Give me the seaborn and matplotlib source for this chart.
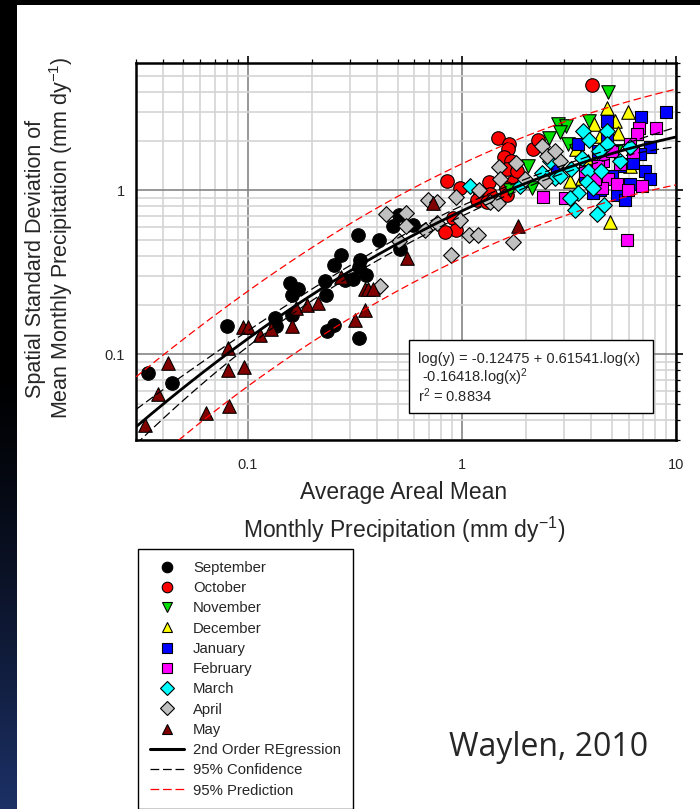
import numpy as np
import pandas as pd
import matplotlib
matplotlib.use("Agg")
import matplotlib.pyplot as plt
import seaborn as sns
from matplotlib.lines import Line2D
from matplotlib.patches import Rectangle
from matplotlib.ticker import FixedLocator, FixedFormatter, LogLocator, NullFormatter

# ---------------- data ----------------
sep_x = [0.0341, 0.0441, 0.0798, 0.157, 0.171, 0.161, 0.134, 0.135, 0.161, 0.229, 0.231, 0.272, 0.252,
         0.334, 0.330, 0.284, 0.310, 0.356, 0.234, 0.252, 0.330, 0.327, 0.409, 0.508, 0.476, 0.590, 0.513]
sep_y = [0.0766, 0.0666, 0.148, 0.271, 0.252, 0.229, 0.166, 0.148, 0.173, 0.279, 0.229, 0.402, 0.349,
         0.374, 0.339, 0.283, 0.287, 0.303, 0.138, 0.150, 0.125, 0.532, 0.496, 0.705, 0.603, 0.612, 0.437]

oct_x = [4.05, 1.47, 1.66, 1.64, 1.57, 1.69, 1.62, 2.15, 2.26, 0.851, 0.978, 1.34, 1.21, 1.35, 1.17,
         1.31, 1.73, 1.61, 1.62, 0.908, 0.937, 0.833, 1.81]
oct_y = [4.43, 2.10, 1.91, 1.78, 1.59, 1.52, 1.36, 1.78, 2.02, 1.15, 1.04, 1.12, 0.972, 0.958, 0.869,
         0.845, 1.13, 1.03, 0.933, 0.684, 0.570, 0.555, 1.32]

nov_x = [4.81, 3.92, 2.81, 3.06, 2.87, 2.55, 3.13, 2.03, 1.68, 2.12, 5.24, 3.41]
nov_y = [4.01, 2.67, 2.53, 2.49, 2.29, 2.08, 1.93, 1.42, 1.01, 1.03, 1.75, 1.75]

dec_x = [4.76, 5.97, 4.14, 5.19, 5.36, 4.92, 3.20, 3.64, 4.42, 3.41, 3.88, 6.10]
dec_y = [3.21, 3.03, 2.53, 2.64, 2.23, 0.638, 1.15, 1.20, 2.16, 1.80, 1.52, 1.42]

jan_x = [8.98, 6.86, 4.76, 7.56, 6.79, 6.10, 5.30, 4.42, 4.09, 2.78, 3.48, 6.30, 4.76, 5.47, 5.02, 3.76, 7.17,
         7.56, 5.78, 4.32]
jan_y = [3.03, 2.79, 2.64, 1.85, 1.66, 1.10, 0.933, 1.00, 0.972, 1.36, 1.93, 1.48, 2.13, 1.42, 1.23, 1.23, 1.32,
         1.18, 0.869, 1.75]

feb_x = [8.07, 6.72, 6.58, 6.10, 6.30, 5.47, 4.81, 5.30, 6.93, 5.90, 2.39, 3.03, 4.56, 4.51, 3.76, 4.18, 5.02,
         5.97, 4.32]
feb_y = [2.42, 2.42, 2.20, 1.93, 1.71, 1.46, 1.18, 1.10, 1.07, 0.496, 0.919, 0.894, 1.52, 1.03, 1.32, 1.18, 1.75,
         1.00, 1.42]

mar_x = [3.68, 3.92, 4.76, 4.76, 4.37, 6.10, 5.47, 3.64, 3.23, 3.88, 4.46, 3.84, 3.48, 3.20, 4.09, 3.37,
         4.61, 4.27, 2.72, 2.36, 1.09, 1.87, 2.58, 2.87]
mar_y = [2.32, 2.02, 2.32, 1.91, 1.75, 1.85, 1.52, 1.57, 1.36, 1.32, 1.31, 1.12, 0.972, 0.906, 1.03, 0.755,
         0.811, 0.714, 1.20, 1.27, 1.06, 1.07, 1.52, 1.23]

apr_x = [0.441, 0.548, 0.548, 0.508, 0.672, 0.764, 0.693, 0.764, 0.414, 0.937, 1.20, 0.978, 1.08, 1.19,
         0.889, 1.49, 1.79, 1.51, 1.35, 1.47, 1.73, 1.97, 2.36, 2.50, 2.87, 2.72, 2.44]
apr_y = [0.714, 0.724, 0.603, 0.489, 0.570, 0.629, 0.869, 0.845, 0.260, 0.919, 1.00, 0.665, 0.532, 0.532,
         0.402, 1.40, 1.48, 1.17, 0.845, 0.834, 0.482, 1.18, 1.88, 1.63, 1.52, 1.73, 1.15]

may_x = [0.0330, 0.0380, 0.0423, 0.0637, 0.0815, 0.0807, 0.0807, 0.0958, 0.0947, 0.100, 0.114, 0.128, 0.161,
         0.168, 0.189, 0.212, 0.272, 0.316, 0.352, 0.364, 0.384, 0.352, 0.553, 0.732, 1.83]
may_y = [0.0369, 0.0570, 0.0881, 0.0437, 0.0482, 0.110, 0.0798, 0.0833, 0.146, 0.146, 0.131, 0.142, 0.148,
         0.191, 0.199, 0.207, 0.295, 0.161, 0.252, 0.249, 0.249, 0.186, 0.385, 0.834, 0.603]

months = ["September", "October", "November", "December", "January", "February", "March", "April", "May"]
month_x = [sep_x, oct_x, nov_x, dec_x, jan_x, feb_x, mar_x, apr_x, may_x]
month_y = [sep_y, oct_y, nov_y, dec_y, jan_y, feb_y, mar_y, apr_y, may_y]
month_colors = ["#000000", "#ff0000", "#00e000", "#ffff00", "#0000ff", "#ff00ff", "#00ffff", "#c0c0c0", "#800000"]
month_markers = ["o", "o", "v", "^", "s", "s", "D", "D", "^"]
month_sizes = [95, 95, 95, 95, 80, 80, 64, 64, 95]

# regression (2nd order in log-log space) as reported on the chart
coef = [-0.12475, 0.61541, -0.16418]
r2_text = "0.8834"
resid_se = 0.145          # residual standard error (log10 units)
line_labels = ["2nd Order REgression", "95% Confidence", "95% Prediction"]
x_ticks = [0.1, 1, 10]
x_ticklabels = ["0.1", "1", "10"]
y_ticks = [0.1, 1]
y_ticklabels = ["0.1", "1"]

df = pd.DataFrame({
    "x": np.concatenate([np.asarray(v, float) for v in month_x]),
    "y": np.concatenate([np.asarray(v, float) for v in month_y]),
    "month": np.repeat(months, [len(v) for v in month_x]),
})

# ---------------- style ----------------
sns.set_style("white")
plt.rcParams["font.family"] = ["Liberation Sans", "DejaVu Sans"]
plt.rcParams["mathtext.fontset"] = "custom"
plt.rcParams["mathtext.rm"] = "Liberation Sans"
plt.rcParams["mathtext.it"] = "Liberation Sans:italic"
plt.rcParams["mathtext.bf"] = "Liberation Sans:bold"

W, H = 700, 809
fig = plt.figure(figsize=(W / 100, H / 100), dpi=100, facecolor="white")

# dark slide background strips
strip = fig.add_axes([0, 0, 17 / W, 1], zorder=-5)
strip.axis("off")
t = np.linspace(0, 1, 300)
w = np.clip((t - 0.45) / 0.55, 0, 1) ** 1.3
rgb = np.stack([0.11 * w, 0.19 * w, 0.40 * w], axis=1)
strip.imshow(rgb[:, None, :], aspect="auto", extent=[0, 1, 0, 1])
fig.patches.append(Rectangle((0, 1 - 5 / H), 1, 5 / H, transform=fig.transFigure,
                             facecolor="black", edgecolor="none", zorder=-4))

ax = fig.add_axes([136 / W, 1 - 440 / H, 540 / W, 377 / H])
ax.set_xscale("log")
ax.set_yscale("log")
ax.set_xlim(0.03, 10)
ax.set_ylim(0.03, 6)
ax.set_axisbelow(True)

for m, c, mk, s in zip(months, month_colors, month_markers, month_sizes):
    sub = df[df["month"] == m]
    sns.scatterplot(data=sub, x="x", y="y", ax=ax, color=c, marker=mk, s=s,
                    edgecolor="black", linewidth=0.8, legend=False, zorder=3)

# regression curve and bands
lx_d = np.log10(df["x"].to_numpy())
Xd = np.column_stack([np.ones_like(lx_d), lx_d, lx_d ** 2])
beta = np.array(coef)
XtXi = np.linalg.inv(Xd.T @ Xd)
tval = 1.973
lxg = np.linspace(np.log10(0.03), np.log10(10), 300)
Xg = np.column_stack([np.ones_like(lxg), lxg, lxg ** 2])
fit = Xg @ beta
h = np.einsum("ij,jk,ik->i", Xg, XtXi, Xg)
conf = tval * resid_se * np.sqrt(h)
pred = tval * resid_se * np.sqrt(1 + h)
xg = 10 ** lxg
ax.plot(xg, 10 ** fit, color="black", lw=2.0, zorder=4)
for sign in (1, -1):
    ax.plot(xg, 10 ** (fit + sign * conf), color="black", lw=0.9, dashes=(7, 3), zorder=4)
    ax.plot(xg, 10 ** (fit + sign * pred), color="#ff0000", lw=0.9, dashes=(6, 3), zorder=4)

# ticks & grid
ax.xaxis.set_major_locator(FixedLocator(x_ticks))
ax.xaxis.set_major_formatter(FixedFormatter(x_ticklabels))
ax.yaxis.set_major_locator(FixedLocator(y_ticks))
ax.yaxis.set_major_formatter(FixedFormatter(y_ticklabels))
ax.xaxis.set_minor_locator(LogLocator(base=10, subs=np.arange(2, 10), numticks=20))
ax.yaxis.set_minor_locator(LogLocator(base=10, subs=np.arange(2, 10), numticks=20))
ax.xaxis.set_minor_formatter(NullFormatter())
ax.yaxis.set_minor_formatter(NullFormatter())
ax.grid(which="minor", color="#d4d4d4", lw=1.2)
ax.grid(which="major", color="#858585", lw=1.2)
ax.tick_params(which="both", direction="out", top=True, right=True, color="black")
ax.tick_params(which="major", length=5, width=1.2, labelsize=10.5)
ax.tick_params(which="minor", length=3, width=0.9)
ax.tick_params(axis="x", which="major", pad=8)
ax.tick_params(axis="y", which="major", pad=3)
for sp in ax.spines.values():
    sp.set_color("black")
    sp.set_linewidth(1.8)
ax.set_xlabel("")
ax.set_ylabel("")

# axis titles
fig.text(36 / W, 1 - 259 / H, "Spatial Standard Deviation of", rotation=90,
         ha="center", va="center", fontsize=15.5)
fig.text(61 / W, 1 - 238 / H, "Mean Monthly Precipitation (mm dy$^{-1}$)", rotation=90,
         ha="center", va="center", fontsize=15.5)
fig.text(404 / W, 1 - 493 / H, "Average Areal Mean", ha="center", va="center", fontsize=16.5)
fig.text(404 / W, 1 - 530 / H, "Monthly Precipitation (mm dy$^{-1}$)", ha="center", va="center", fontsize=16.5)

# equation box
ax.add_patch(Rectangle((409 / W, 1 - 413 / H), 244 / W, 73 / H, transform=fig.transFigure,
                       facecolor="white", edgecolor="black", lw=1.0, zorder=6))
eq_lines = ["log(y) = %.5f + %.5f.log(x)" % (coef[0], coef[1]),
            " %.5f.log(x)$^2$" % coef[2],
            "r$^2$ = " + r2_text]
for txt, yy in zip(eq_lines, [359, 377, 396]):
    fig.text(418 / W, 1 - yy / H, txt, ha="left", va="center", fontsize=10.5, zorder=7)

# legend
handles = [Line2D([], [], linestyle="none", marker=mk, markerfacecolor=c, markeredgecolor="black",
                  markeredgewidth=0.8, markersize=(7.6 if mk not in ("D", "s") else 6.8))
           for c, mk in zip(month_colors, month_markers)]
handles += [Line2D([], [], color="black", lw=2.2),
            Line2D([], [], color="black", lw=0.9, dashes=(7, 3)),
            Line2D([], [], color="#ff0000", lw=0.9, dashes=(7, 3))]
labels = months + line_labels
leg = fig.legend(handles, labels, loc="upper left", bbox_to_anchor=(138 / W, 1 - 549 / H),
                 bbox_transform=fig.transFigure, frameon=True, fancybox=False, shadow=False,
                 edgecolor="black", framealpha=1, fontsize=10.7, handlelength=2.3,
                 handletextpad=0.6, labelspacing=0.42, borderpad=0.8, borderaxespad=0)
leg.get_frame().set_linewidth(1.0)

fig.text(549 / W, 1 - 748 / H, "Waylen, 2010", ha="center", va="center", fontsize=23,
         family=["Open Sans", "DejaVu Sans"])

fig.savefig("out.png", dpi=100)
